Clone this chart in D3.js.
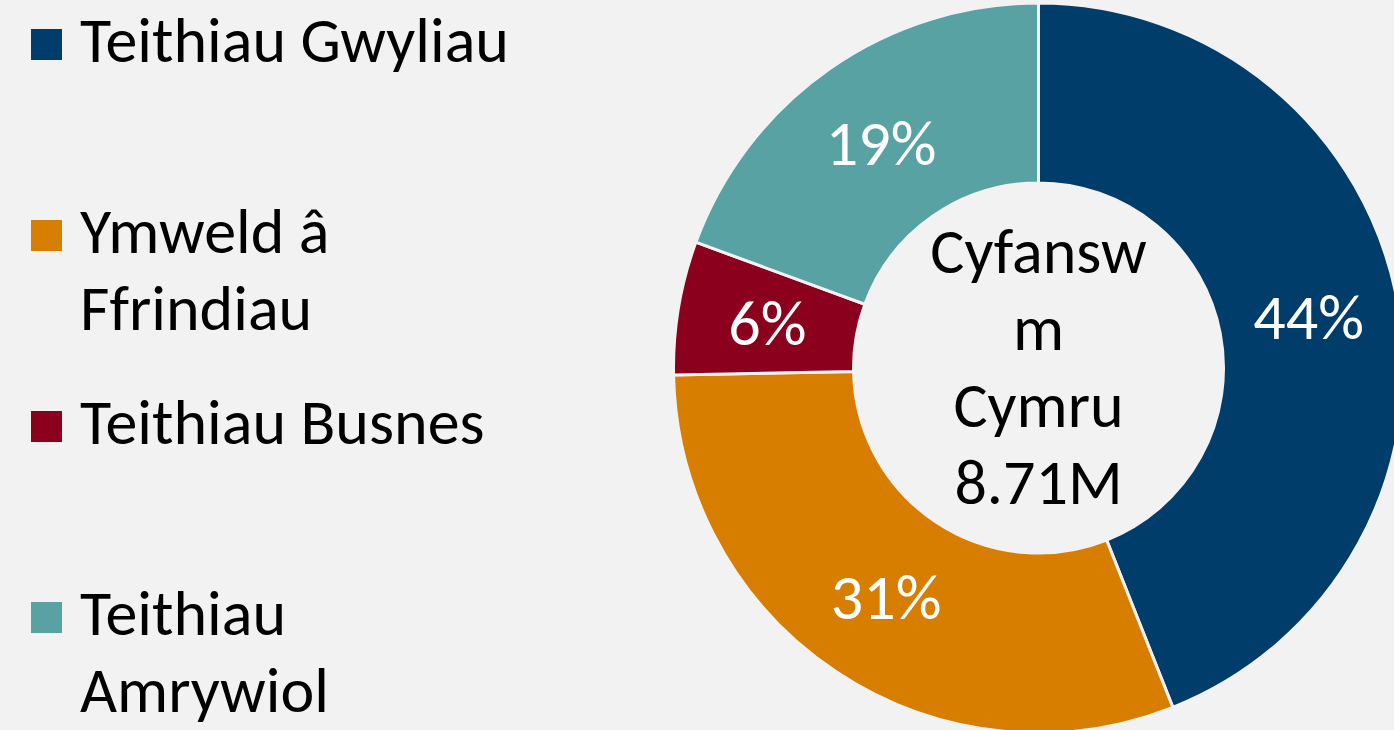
<!DOCTYPE html>
<html>
<head>
<meta charset="utf-8">
<script src="https://cdn.jsdelivr.net/npm/d3@7"></script>
<style>
  html, body { margin: 0; padding: 0; background: #f2f2f2; }
  svg { display: block; }
  text { font-family: Carlito, Lato, "Liberation Sans", sans-serif; }
</style>
</head>
<body>
<svg width="1394" height="730"></svg>
<script>
// legend lines (one entry per category, broken where the original wraps)
var categories = [
  ["Teithiau Gwyliau"],
  ["Ymweld â", "Ffrindiau"],
  ["Teithiau Busnes"],
  ["Teithiau", "Amrywiol"]
];
var shares = [44.0, 30.7, 5.9, 19.4];   // per cent of all trips
var colours = ["#003d6b", "#d77d00", "#8a001d", "#58a2a4"];
var centreLines = ["Cyfansw", "m", "Cymru", "8.71M"];

var svg = d3.select("svg"),
    width = +svg.attr("width"),
    height = +svg.attr("height");

svg.append("rect")
    .attr("width", width)
    .attr("height", height)
    .attr("fill", "#f2f2f2");

var cx = 1038.5, cy = 368,
    outerR = 365, innerR = 185,
    fontSize = 64, lineGap = 77;

var pie = d3.pie().sort(null).value(function(d) { return d; });
var arc = d3.arc().innerRadius(innerR).outerRadius(outerR);

var arcs = pie(shares);

var donut = svg.append("g")
    .attr("transform", "translate(" + cx + "," + cy + ")");

donut.selectAll("path")
    .data(arcs)
    .enter().append("path")
    .attr("d", arc)
    .attr("fill", function(d, i) { return colours[i]; })
    .attr("stroke", "#f2f2f2")
    .attr("stroke-width", 3);

donut.selectAll("text.pct")
    .data(arcs)
    .enter().append("text")
    .attr("class", "pct")
    .attr("transform", function(d) { return "translate(" + arc.centroid(d) + ")"; })
    .attr("dy", "0.35em")
    .attr("text-anchor", "middle")
    .attr("fill", "#fff")
    .attr("font-size", fontSize)
    .text(function(d) { return Math.round(d.value) + "%"; });

// text in the hole
donut.append("text")
    .attr("text-anchor", "middle")
    .attr("font-size", fontSize)
    .attr("fill", "#000")
    .selectAll("tspan")
    .data(centreLines)
    .enter().append("tspan")
    .attr("x", 0)
    .attr("y", function(d, i) { return 273 - cy + i * lineGap; })
    .text(function(d) { return d; });

// legend
var legend = svg.append("g").attr("class", "legend");

var item = legend.selectAll("g")
    .data(categories)
    .enter().append("g")
    .attr("transform", function(d, i) { return "translate(31," + (29 + i * 191) + ")"; });

item.append("rect")
    .attr("width", 31)
    .attr("height", 31)
    .attr("fill", function(d, i) { return colours[i]; });

item.append("text")
    .attr("font-size", fontSize)
    .attr("fill", "#000")
    .selectAll("tspan")
    .data(function(d) { return d; })
    .enter().append("tspan")
    .attr("x", 49)
    .attr("y", function(d, i) { return 33 + i * lineGap; })
    .text(function(d) { return d; });
</script>
</body>
</html>
